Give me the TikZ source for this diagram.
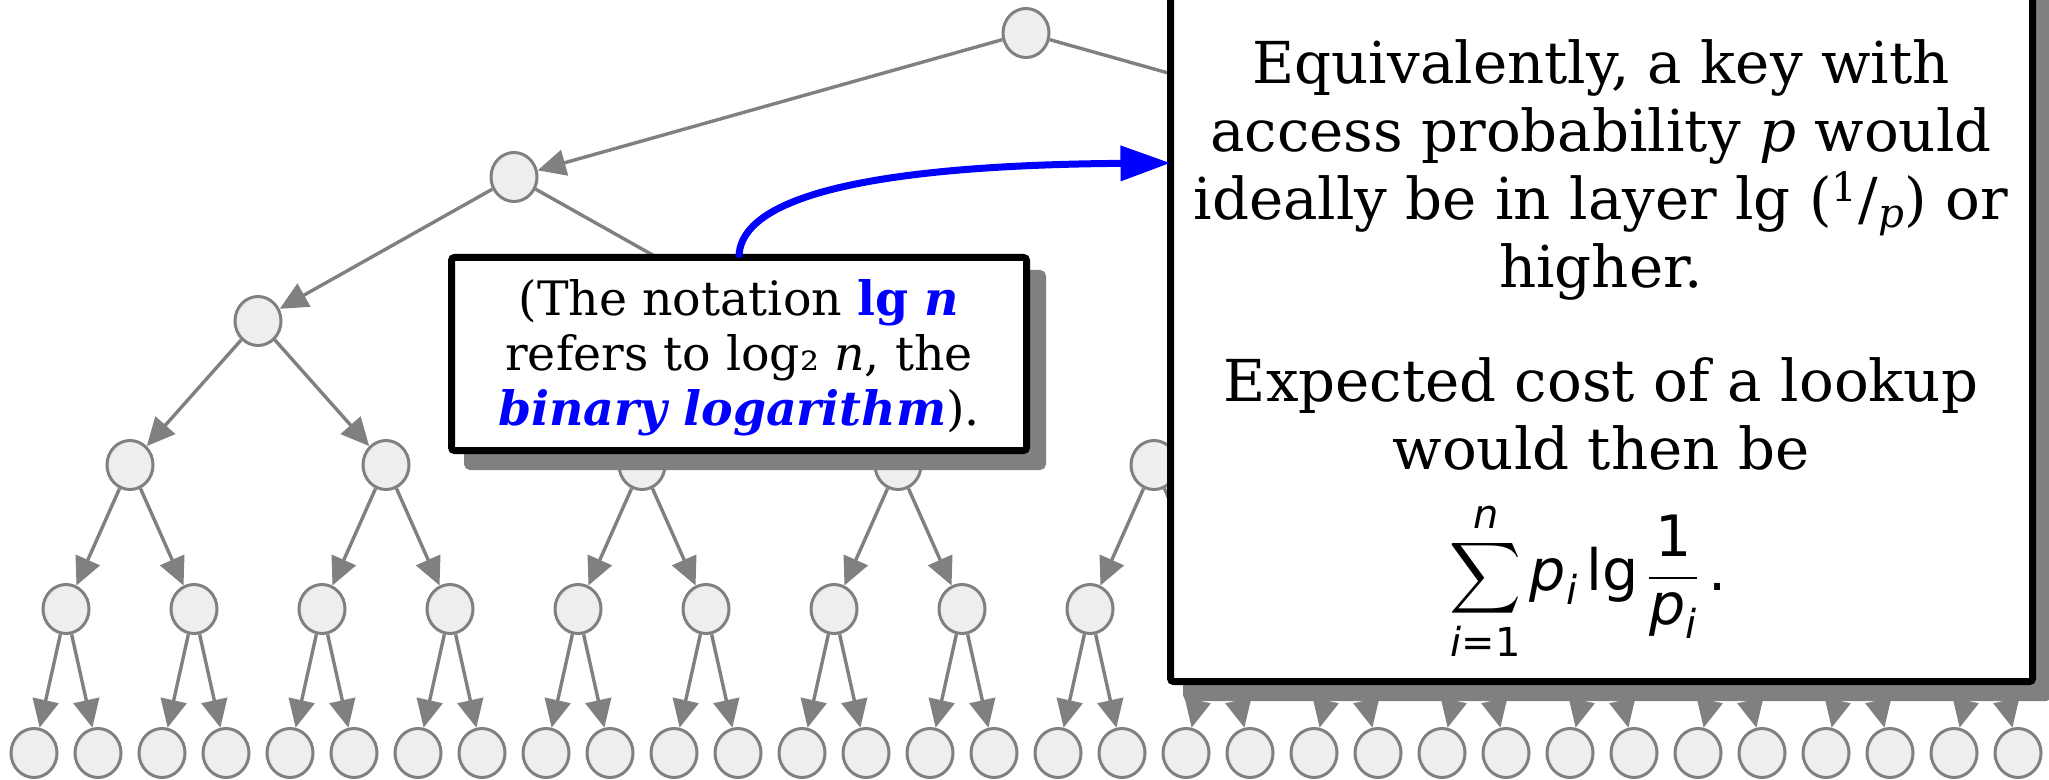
\documentclass[tikz,border=0pt]{standalone}
\usepackage{fontspec}
\usepackage{amsmath}
\setmainfont{DejaVu Serif}
\newfontfamily\msans{DejaVu Sans}
\usetikzlibrary{arrows.meta,shapes.geometric,shadows}
\definecolor{eg}{RGB}{128,128,128}
\definecolor{nf}{RGB}{238,238,238}
\definecolor{blu}{RGB}{0,0,255}
\newcommand\mv[1]{\text{\msans\itshape #1}}
\newcommand\mr[1]{\text{\msans #1}}
\tikzset{
  tnode/.style={ellipse, draw=eg, fill=nf, line width=1.5pt, minimum width=23pt, minimum height=24.5pt, inner sep=0pt},
  tedge/.style={draw=eg, line width=1.7pt, -{Triangle[length=14pt,width=13pt]}},
  notebox/.style={draw=black, fill=white, line width=3.5pt, rounded corners=1.5pt, outer sep=0pt,
    drop shadow={shadow xshift=8pt, shadow yshift=-8pt, fill=eg, draw=eg, line width=3.5pt, opacity=1}},
}
\begin{document}
\begin{tikzpicture}[x=0.5pt,y=-0.5pt]
\useasboundingbox (0,0) rectangle (2049,780);
\fill[white] (0,0) rectangle (2049,780);
\clip (0,0) rectangle (2049,780);
% tree nodes
\foreach \L in {0,...,5} {
  \pgfmathtruncatemacro\N{2^\L-1}
  \pgfmathtruncatemacro\S{2^(5-\L)}
  \foreach \k in {0,...,\N} {
    \node[tnode] (n\L-\k) at ({34+64*\S*\k+32*(\S-1)}, {33+144*\L}) {};
  }
}
% tree edges
\foreach \L in {0,...,4} {
  \pgfmathtruncatemacro\M{\L+1}
  \pgfmathtruncatemacro\N{2^\L-1}
  \foreach \k in {0,...,\N} {
    \pgfmathtruncatemacro\a{2*\k}
    \pgfmathtruncatemacro\b{2*\k+1}
    \draw[tedge] (n\L-\k) -- (n\M-\a);
    \draw[tedge] (n\L-\k) -- (n\M-\b);
  }
}
% small note box
\node[notebox, minimum width=287.5pt, minimum height=96.5pt, inner sep=0pt] (sbox) at (739,354) {};
\node[align=center, inner sep=0pt, font=\fontsize{23.7}{27.5}\selectfont] (stext) at (739,358)
  {(The notation \textcolor{blu}{\textbf{lg \textit{n}}}\\
   refers to log₂ \textit{n}, the\\
   \textcolor{blu}{\textbf{\textit{binary logarithm}}}).};
% big note box
\node[notebox, anchor=south west, minimum width=431pt, minimum height=355.75pt] (rbox) at (1170.5,681.5) {};
\node[align=center, inner sep=0pt, font=\fontsize{28.9}{34}\selectfont] (rtext) at (1601,255)
  {Equivalently, a key with\\
   access probability \textit{p} would\\
   ideally be in layer lg (\textsuperscript{1}/\textsubscript{\textit{p}}) or\\
   higher.\\[23pt]
   Expected cost of a lookup\\
   would then be};
\node[inner sep=0pt, font=\fontsize{28.5}{33}\selectfont] (rform) at (1588,581)
  {$\displaystyle\sum_{\mv{i}\mr{=}\mr{1}}^{\mv{n}} \mv{p}_{\mv{i}}\,\mr{lg}\,\frac{\mr{1}}{\mv{p}_{\mv{i}}}\,\mr{.}$};
% blue arrow
\coordinate (tgt) at (rbox.west |- 0,163);
\draw[blu, line width=3.5pt, -{Triangle[length=25pt,width=17pt]}]
  (sbox.north) .. controls +(0,-67.5) and +(-270,2) .. (tgt);
\end{tikzpicture}
\end{document}
